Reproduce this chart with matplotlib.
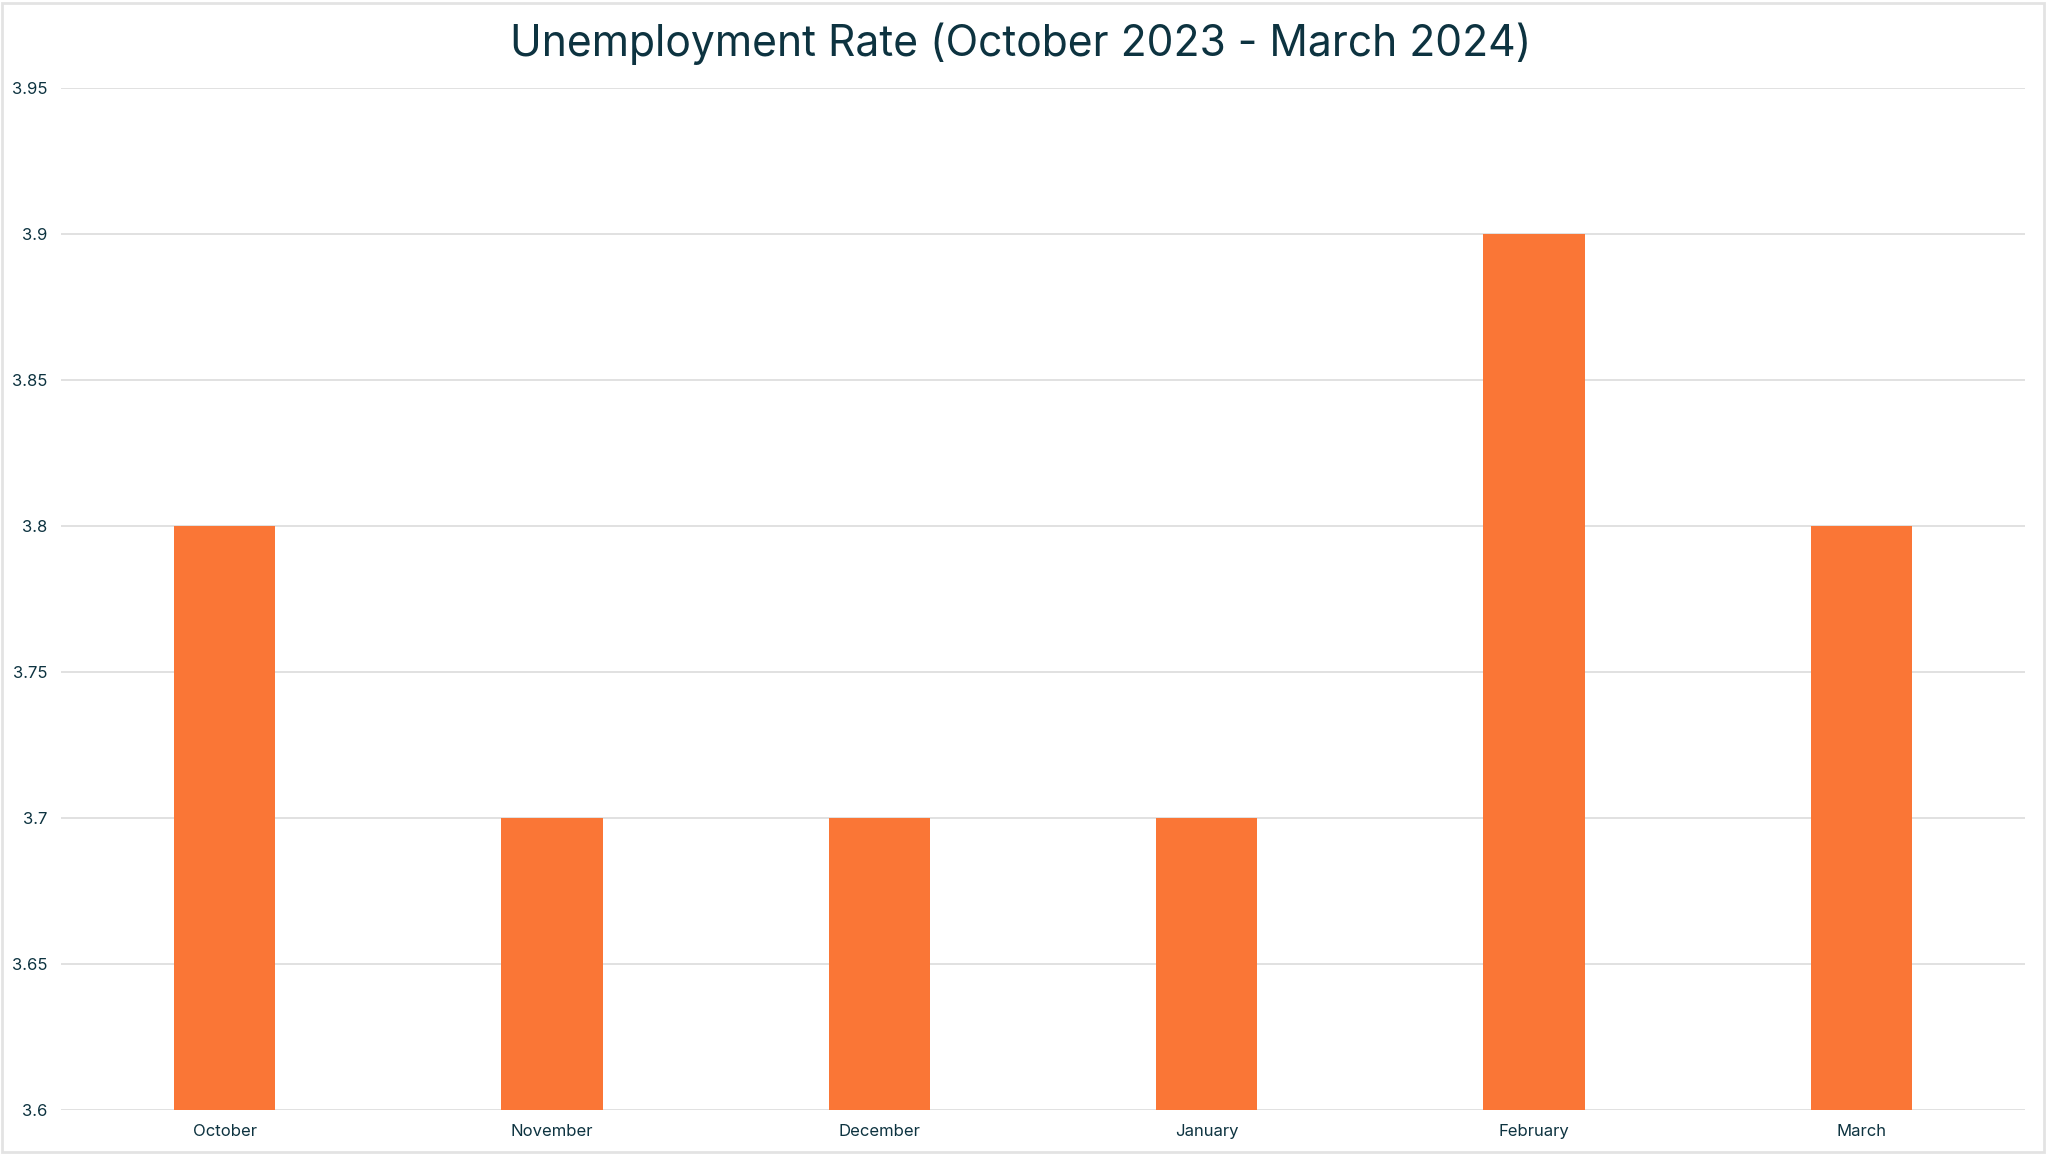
import matplotlib.pyplot as plt
from matplotlib.patches import Rectangle

months = ['October', 'November', 'December', 'January', 'February', 'March']
rates = [3.8, 3.7, 3.7, 3.7, 3.9, 3.8]
y_ticks = [3.6, 3.65, 3.7, 3.75, 3.8, 3.85, 3.9, 3.95]
y_tick_labels = ['3.6', '3.65', '3.7', '3.75', '3.8', '3.85', '3.9', '3.95']

TEXT_COLOR = '#0d3340'
BAR_COLOR = '#fa7636'
GRID_COLOR = '#dedede'

plt.rcParams['font.family'] = ['Inter', 'DejaVu Sans']

fig = plt.figure(figsize=(20.48, 11.54), dpi=100)
ax = fig.add_axes([61 / 2048, 1 - 1110 / 1154, (2025 - 61) / 2048, (1110 - 88) / 1154])

xs = list(range(len(months)))
ax.bar(xs, rates, width=0.31, color=BAR_COLOR, zorder=2)

ax.set_xlim(-0.5, len(months) - 0.5)
ax.set_ylim(3.6, 3.95)
ax.set_yticks(y_ticks)
ax.set_yticklabels(y_tick_labels)
ax.set_xticks(xs)
ax.set_xticklabels(months)

ax.yaxis.grid(True, color=GRID_COLOR, linewidth=1.3, zorder=0)
ax.set_axisbelow(True)
for s in ax.spines.values():
    s.set_visible(False)
ax.tick_params(axis='both', length=0, labelsize=12, labelcolor=TEXT_COLOR)
ax.tick_params(axis='x', pad=10)
ax.tick_params(axis='y', pad=10)

fig.text(1021 / 2048, 1 - 44 / 1154, 'Unemployment Rate (October 2023 - March 2024)',
         ha='center', va='center', fontsize=30.7, color=TEXT_COLOR)

# light frame round the whole chart
fig.patches.append(Rectangle((2 / 2048, 2 / 1154), 2042 / 2048, 1149 / 1154,
                             transform=fig.transFigure, fill=False,
                             edgecolor='#e3e3e3', linewidth=2))

fig.savefig('out.png', dpi=100, facecolor='white')
